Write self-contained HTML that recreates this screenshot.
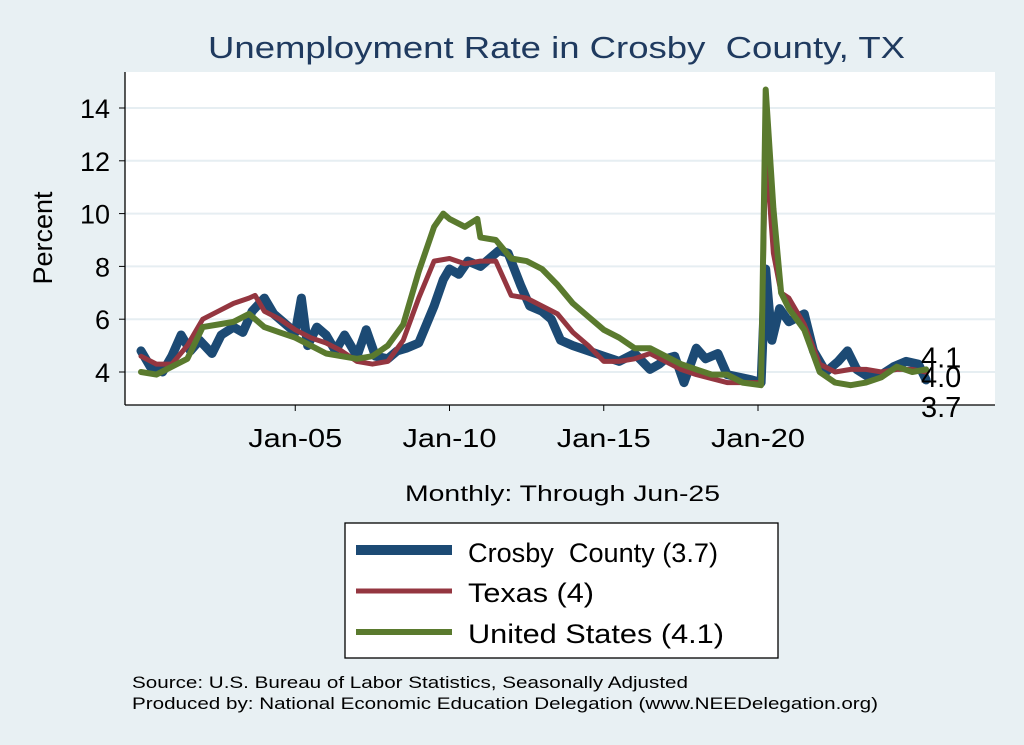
<!DOCTYPE html>
<html><head><meta charset="utf-8"><style>
body{margin:0;background:#e8f0f3;}
svg{display:block;font-family:"Liberation Sans",Arial,sans-serif;}
text{white-space:pre;}
</style></head><body>
<svg id="chart" width="1024" height="745" viewBox="0 0 1024 745">
<rect x="0" y="0" width="1024" height="745" fill="#e8f0f3"/>
<text x="208" y="58" font-size="31" fill="#1f3a5f" textLength="697" lengthAdjust="spacingAndGlyphs">Unemployment Rate in Crosby  County, TX</text>
<rect x="125" y="72" width="870" height="333" fill="#fff"/>
<g id="grid"></g>
<g id="series"></g>
<line x1="125" y1="72" x2="125" y2="405" stroke="#000" stroke-width="1.3"/>
<line x1="125" y1="405" x2="995" y2="405" stroke="#000" stroke-width="1.3"/>
<g id="ticks"></g>
<text x="52" y="238" font-size="27" text-anchor="middle" transform="rotate(-90 52 238)">Percent</text>
<text x="405" y="501" font-size="22" textLength="315" lengthAdjust="spacingAndGlyphs">Monthly: Through Jun-25</text>
<g>
<rect x="345" y="523" width="433" height="135" fill="#fff" stroke="#000" stroke-width="1.3"/>
<line x1="356" y1="550" x2="452" y2="550" stroke="#1c4a74" stroke-width="10"/>
<text x="468" y="562" font-size="27" textLength="250" lengthAdjust="spacingAndGlyphs">Crosby  County (3.7)</text>
<line x1="356" y1="591" x2="452" y2="591" stroke="#943640" stroke-width="5"/>
<text x="468" y="602" font-size="27" textLength="126" lengthAdjust="spacingAndGlyphs">Texas (4)</text>
<line x1="356" y1="632" x2="452" y2="632" stroke="#5a7a2e" stroke-width="6"/>
<text x="468" y="643" font-size="27" textLength="256" lengthAdjust="spacingAndGlyphs">United States (4.1)</text>
</g>
<text x="132" y="688" font-size="17" textLength="556" lengthAdjust="spacingAndGlyphs">Source: U.S. Bureau of Labor Statistics, Seasonally Adjusted</text>
<text x="132" y="709" font-size="17" textLength="746" lengthAdjust="spacingAndGlyphs">Produced by: National Economic Education Delegation (www.NEEDelegation.org)</text>
<g id="endlabels"></g>
</svg>
<script>
const yTicks=[4,6,8,10,12,14];
const xTickYears=[2005,2010,2015,2020];
const xTickLabels=["Jan-05","Jan-10","Jan-15","Jan-20"];
const usDates=[2000,2000.5,2001,2001.5,2002,2002.5,2003,2003.5,2004,2004.5,2005,2005.5,2006,2006.5,2007,2007.5,2008,2008.5,2009,2009.5,2009.8,2010,2010.5,2010.9,2011,2011.5,2012,2012.5,2013,2013.5,2014,2014.5,2015,2015.5,2016,2016.5,2017,2017.5,2018,2018.5,2019,2019.5,2020.1,2020.25,2020.5,2020.75,2021,2021.5,2022,2022.5,2023,2023.5,2024,2024.5,2025,2025.45];
const usValues=[4.0,3.9,4.2,4.5,5.7,5.8,5.9,6.2,5.7,5.5,5.3,5.0,4.7,4.6,4.5,4.6,5.0,5.8,7.8,9.5,10.0,9.8,9.5,9.8,9.1,9.0,8.3,8.2,7.9,7.3,6.6,6.1,5.6,5.3,4.9,4.9,4.6,4.3,4.1,3.9,3.9,3.6,3.5,14.7,10.2,7.0,6.4,5.6,4.0,3.6,3.5,3.6,3.8,4.2,4.0,4.1];
const txDates=[2000,2000.5,2001,2001.5,2002,2002.5,2003,2003.5,2003.7,2004,2004.5,2005,2005.5,2006,2006.5,2007,2007.5,2008,2008.5,2009,2009.5,2010,2010.5,2011,2011.5,2012,2012.5,2013,2013.5,2014,2014.5,2015,2015.5,2016,2016.5,2017,2017.5,2018,2019,2020.1,2020.25,2020.5,2020.75,2021,2021.5,2022,2022.5,2023,2023.5,2024,2024.5,2025,2025.45];
const txValues=[4.6,4.3,4.3,5.0,6.0,6.3,6.6,6.8,6.9,6.3,6.0,5.6,5.3,5.1,4.8,4.4,4.3,4.4,5.2,6.8,8.2,8.3,8.1,8.2,8.2,6.9,6.8,6.5,6.2,5.5,5.0,4.4,4.4,4.5,4.7,4.4,4.1,3.9,3.6,3.6,12.5,8.5,7.0,6.8,5.8,4.3,4.0,4.1,4.1,4.0,4.1,4.1,4.0];
const crDates=[2000,2000.3,2000.7,2001,2001.3,2001.6,2001.9,2002.3,2002.6,2003,2003.3,2003.6,2004,2004.3,2004.6,2005,2005.2,2005.4,2005.7,2006,2006.3,2006.6,2007,2007.3,2007.6,2008,2008.3,2008.6,2009,2009.5,2009.8,2010,2010.3,2010.6,2011,2011.3,2011.6,2011.9,2012.3,2012.6,2013,2013.3,2013.6,2014,2014.5,2015,2015.5,2016,2016.5,2016.8,2017,2017.3,2017.6,2018,2018.3,2018.7,2019,2019.4,2019.8,2020.1,2020.25,2020.45,2020.7,2021,2021.5,2021.8,2022.2,2022.6,2022.9,2023.2,2023.6,2024,2024.4,2024.8,2025.2,2025.45];
const crValues=[4.8,4.2,4.0,4.6,5.4,4.8,5.2,4.7,5.4,5.7,5.5,6.3,6.8,6.2,5.9,5.5,6.8,5.0,5.7,5.4,4.8,5.4,4.6,5.6,4.6,4.5,4.8,4.9,5.1,6.5,7.5,7.9,7.7,8.2,8.0,8.3,8.6,8.5,7.3,6.5,6.3,6.0,5.2,5.0,4.8,4.6,4.4,4.7,4.1,4.3,4.5,4.6,3.6,4.9,4.5,4.7,3.9,3.8,3.7,3.6,7.9,5.2,6.4,5.9,6.2,4.8,4.0,4.4,4.8,4.1,3.8,3.9,4.2,4.4,4.3,3.7];
const endLabels=["4.1","4.0","3.7"];
const endValues=[4.1,4.0,3.7];

const NS="http://www.w3.org/2000/svg";
function xs(t){return 141+(t-2000)*30.85;}
function ys(v){return 372-(v-4)*26.4;}
const grid=document.getElementById('grid'),ticks=document.getElementById('ticks'),series=document.getElementById('series'),endG=document.getElementById('endlabels');
yTicks.forEach(v=>{
 const g=document.createElementNS(NS,'line');
 g.setAttribute('x1',125);g.setAttribute('x2',995);g.setAttribute('y1',ys(v));g.setAttribute('y2',ys(v));
 g.setAttribute('stroke','#e6eef2');g.setAttribute('stroke-width','2');
 
 
 grid.appendChild(g);
 const t=document.createElementNS(NS,'line');
 t.setAttribute('x1',119);t.setAttribute('x2',125);t.setAttribute('y1',ys(v));t.setAttribute('y2',ys(v));t.setAttribute('stroke','#000');
 
 
 ticks.appendChild(t);
 const l=document.createElementNS(NS,'text');
 l.setAttribute('x',110);l.setAttribute('y',ys(v)+10);l.setAttribute('font-size','27');l.setAttribute('text-anchor','end');
 l.textContent=v;
 
 
 ticks.appendChild(l);
});
xTickYears.forEach((yr,i)=>{
 const t=document.createElementNS(NS,'line');
 t.setAttribute('x1',xs(yr));t.setAttribute('x2',xs(yr));t.setAttribute('y1',405);t.setAttribute('y2',411);t.setAttribute('stroke','#000');
 
 
 ticks.appendChild(t);
 const l=document.createElementNS(NS,'text');
 l.setAttribute('x',xs(yr)-47);l.setAttribute('y',447);l.setAttribute('font-size','26');
 l.setAttribute('textLength','94');l.setAttribute('lengthAdjust','spacingAndGlyphs');
 l.textContent=xTickLabels[i];
 
 
 ticks.appendChild(l);
});
function draw(d,v,color,w,name){
 const p=document.createElementNS(NS,'polyline');
 p.setAttribute('points',d.map((t,i)=>xs(t).toFixed(1)+','+ys(v[i]).toFixed(1)).join(' '));
 p.setAttribute('fill','none');p.setAttribute('stroke',color);p.setAttribute('stroke-width',w);p.setAttribute('stroke-linejoin','round');p.setAttribute('stroke-linecap','round');
 
 
 series.appendChild(p);
}
draw(crDates,crValues,'#1c4a74',9,'crosby-county-line');
draw(txDates,txValues,'#943640',5,'texas-line');
draw(usDates,usValues,'#5a7a2e',6,'united-states-line');
const offs=[-12,5,27];
endLabels.forEach((s,i)=>{
 const l=document.createElementNS(NS,'text');
 l.setAttribute('x',921);l.setAttribute('y',ys(endValues[i])+10+offs[i]);l.setAttribute('font-size','29');
 l.textContent=s;
 
 
 endG.appendChild(l);
});
</script>
</body></html>
